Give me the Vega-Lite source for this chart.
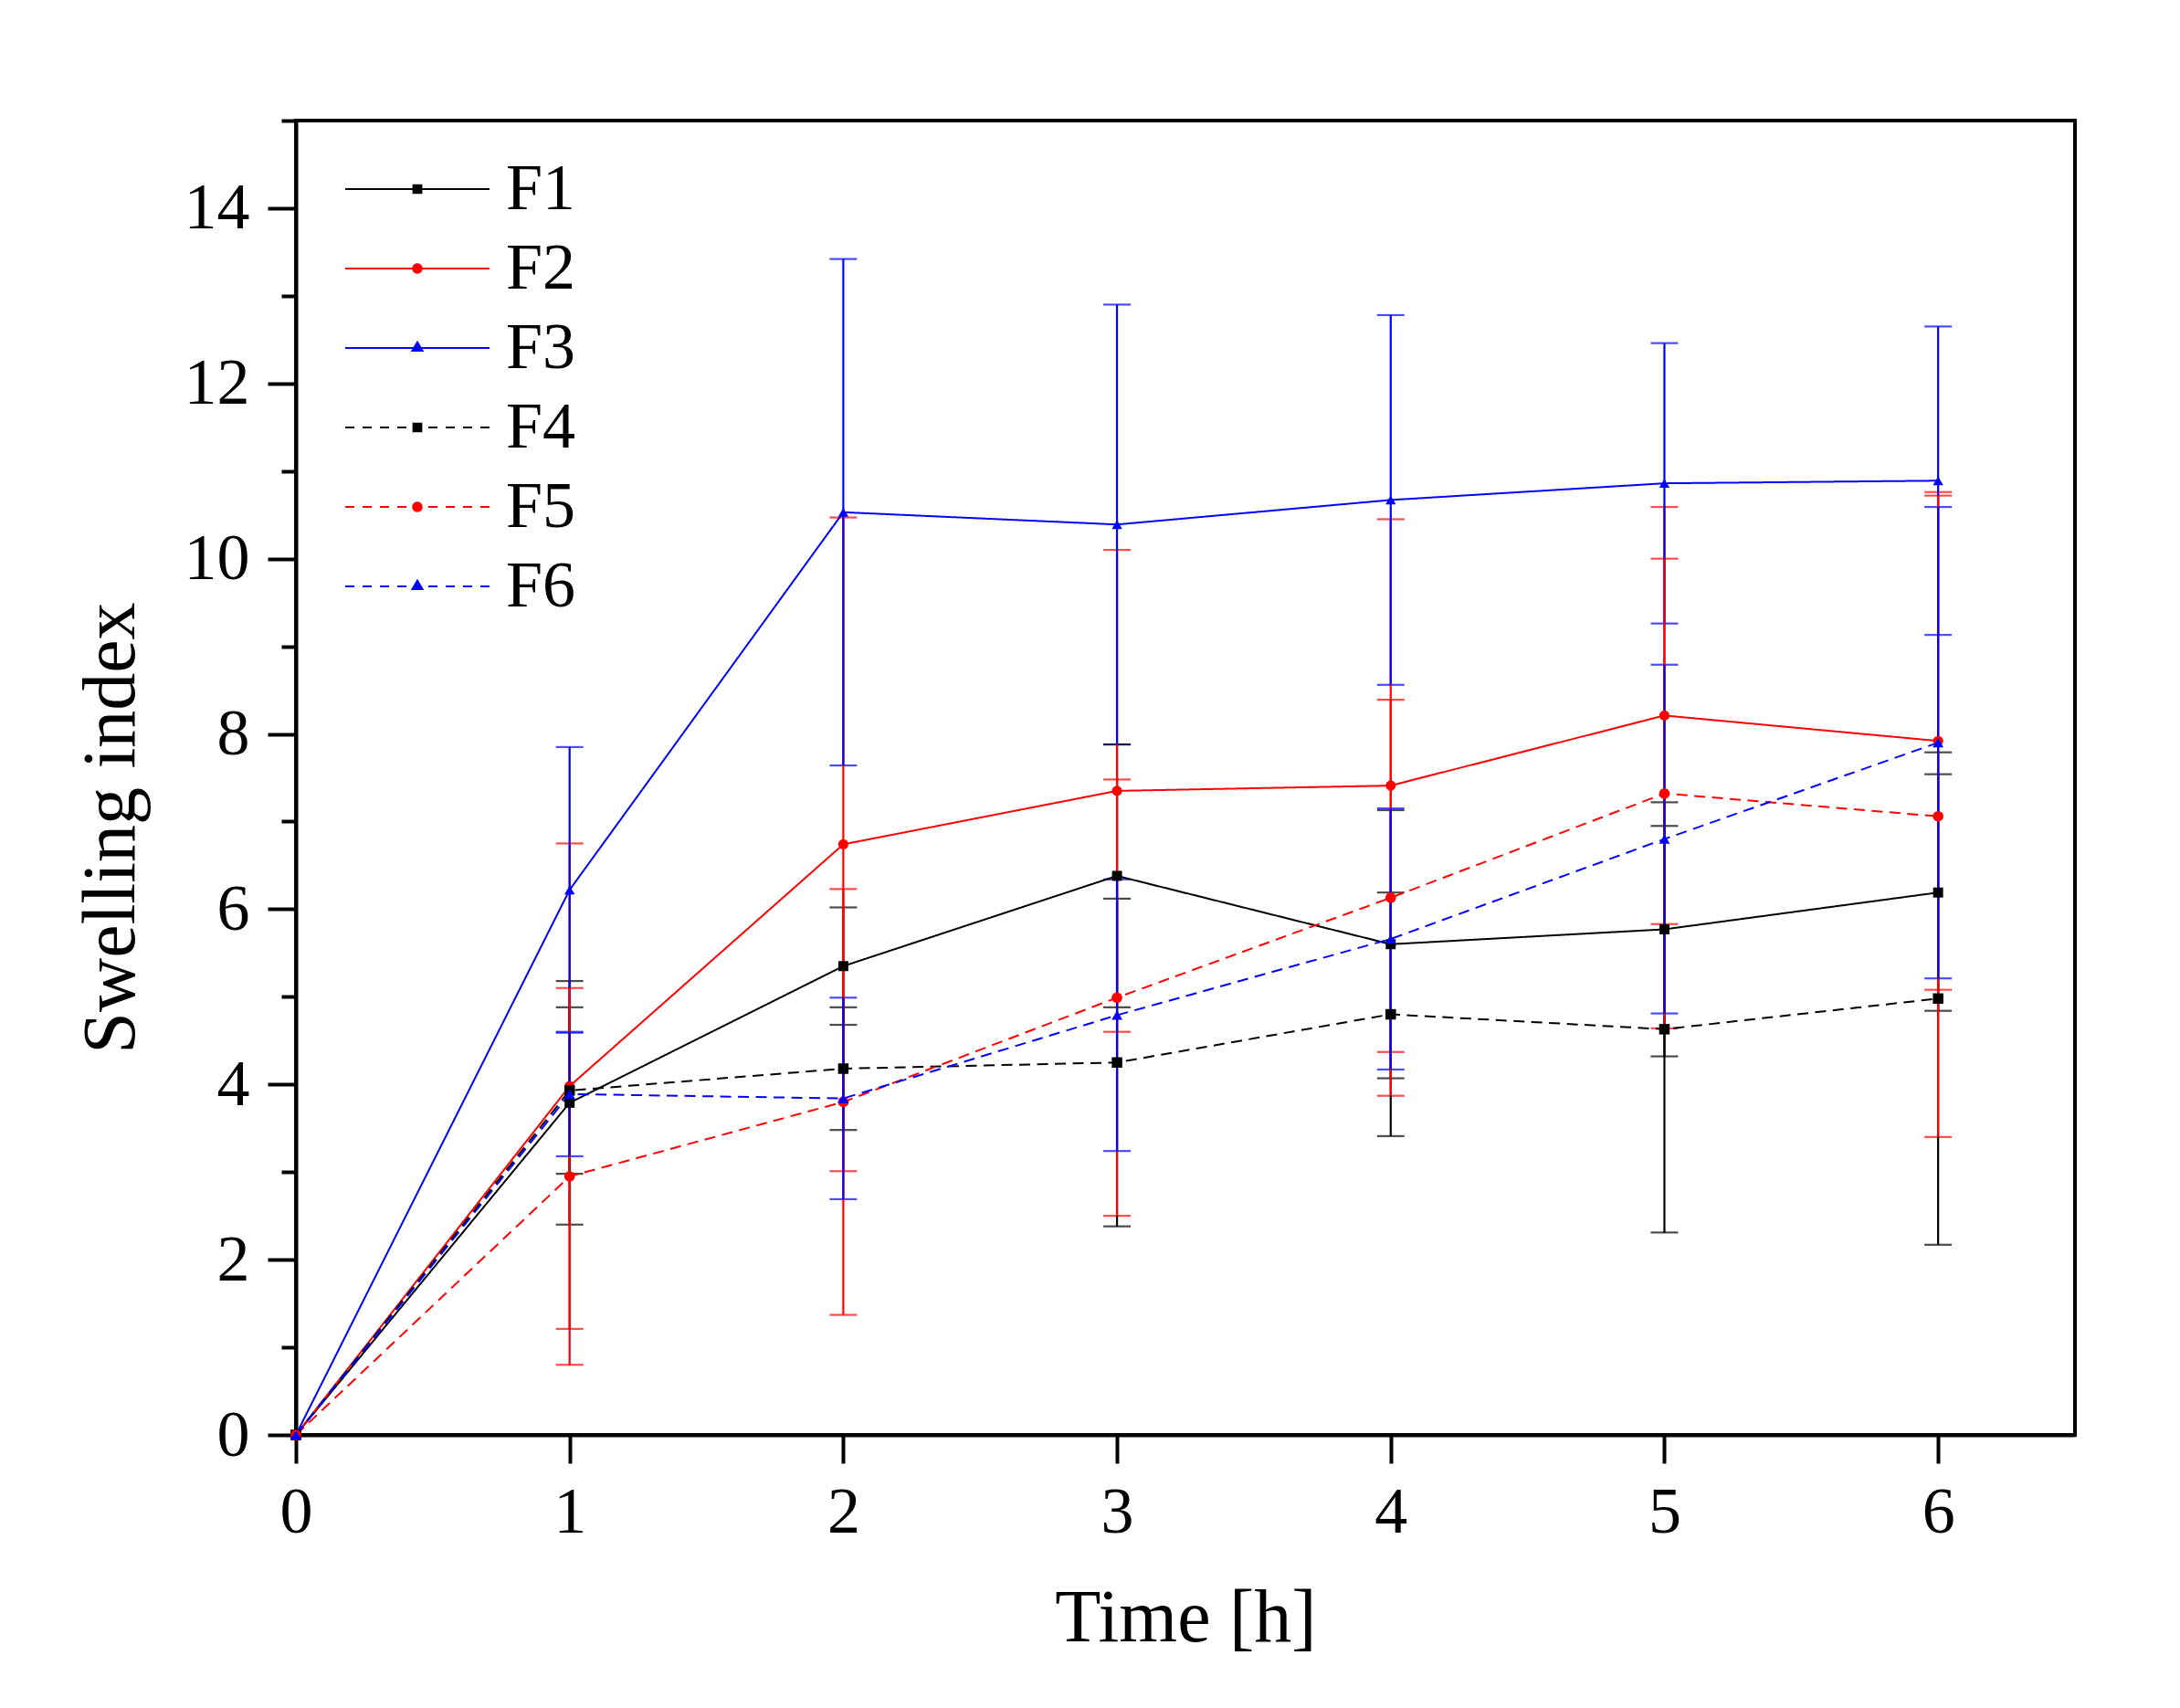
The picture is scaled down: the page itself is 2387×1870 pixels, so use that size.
{
  "$schema": "https://vega.github.io/schema/vega-lite/v6.json",
  "autosize": "none",
  "padding": {"left": 324, "top": 132, "right": 115, "bottom": 299},
  "width": 1948,
  "height": 1439,
  "background": "white",
  "config": {
    "view": {"stroke": "#000000", "strokeWidth": 4},
    "axis": {
      "grid": false,
      "domainColor": "#000000",
      "domainWidth": 4,
      "tickColor": "#000000",
      "tickWidth": 4,
      "labelFont": "Liberation Serif",
      "labelFontSize": 72,
      "labelColor": "#000000",
      "titleFont": "Liberation Serif",
      "titleFontSize": 82,
      "titleFontWeight": "normal",
      "titleColor": "#000000"
    }
  },
  "data": {
    "values": [
      {"series": "F1", "time": 0, "value": 0, "sd": 0},
      {"series": "F1", "time": 1, "value": 3.79, "sd": 1.39},
      {"series": "F1", "time": 2, "value": 5.35, "sd": 0.67},
      {"series": "F1", "time": 3, "value": 6.38, "sd": 1.5},
      {"series": "F1", "time": 4, "value": 5.6, "sd": 1.53},
      {"series": "F1", "time": 5, "value": 5.77, "sd": 1.45},
      {"series": "F1", "time": 6, "value": 6.19, "sd": 1.35},
      {"series": "F2", "time": 0, "value": 0, "sd": 0},
      {"series": "F2", "time": 1, "value": 3.98, "sd": 2.77},
      {"series": "F2", "time": 2, "value": 6.74, "sd": 3.73},
      {"series": "F2", "time": 3, "value": 7.35, "sd": 2.75},
      {"series": "F2", "time": 4, "value": 7.41, "sd": 3.04},
      {"series": "F2", "time": 5, "value": 8.21, "sd": 2.38},
      {"series": "F2", "time": 6, "value": 7.92, "sd": 2.84},
      {"series": "F3", "time": 0, "value": 0, "sd": 0},
      {"series": "F3", "time": 1, "value": 6.22, "sd": 1.63},
      {"series": "F3", "time": 2, "value": 10.53, "sd": 2.89},
      {"series": "F3", "time": 3, "value": 10.39, "sd": 2.51},
      {"series": "F3", "time": 4, "value": 10.67, "sd": 2.11},
      {"series": "F3", "time": 5, "value": 10.86, "sd": 1.6},
      {"series": "F3", "time": 6, "value": 10.89, "sd": 1.76},
      {"series": "F4", "time": 0, "value": 0, "sd": 0},
      {"series": "F4", "time": 1, "value": 3.93, "sd": 0.95},
      {"series": "F4", "time": 2, "value": 4.18, "sd": 0.7},
      {"series": "F4", "time": 3, "value": 4.25, "sd": 1.87},
      {"series": "F4", "time": 4, "value": 4.8, "sd": 1.39},
      {"series": "F4", "time": 5, "value": 4.63, "sd": 2.32},
      {"series": "F4", "time": 6, "value": 4.98, "sd": 2.81},
      {"series": "F5", "time": 0, "value": 0, "sd": 0},
      {"series": "F5", "time": 1, "value": 2.95, "sd": 2.15},
      {"series": "F5", "time": 2, "value": 3.8, "sd": 2.43},
      {"series": "F5", "time": 3, "value": 4.99, "sd": 2.49},
      {"series": "F5", "time": 4, "value": 6.13, "sd": 2.26},
      {"series": "F5", "time": 5, "value": 7.32, "sd": 2.68},
      {"series": "F5", "time": 6, "value": 7.06, "sd": 3.66},
      {"series": "F6", "time": 0, "value": 0, "sd": 0},
      {"series": "F6", "time": 1, "value": 3.89, "sd": 0.71},
      {"series": "F6", "time": 2, "value": 3.84, "sd": 1.15},
      {"series": "F6", "time": 3, "value": 4.79, "sd": 1.55},
      {"series": "F6", "time": 4, "value": 5.66, "sd": 1.49},
      {"series": "F6", "time": 5, "value": 6.8, "sd": 1.99},
      {"series": "F6", "time": 6, "value": 7.9, "sd": 2.69}
    ]
  },
  "encoding": {
    "x": {
      "field": "time",
      "type": "quantitative",
      "scale": {"domain": [0, 6.5], "nice": false, "zero": false},
      "axis": {
        "title": "Time [h]",
        "values": [0, 0.5, 1, 1.5, 2, 2.5, 3, 3.5, 4, 4.5, 5, 5.5, 6, 6.5],
        "format": "d",
        "labelExpr": "datum.value % 1 === 0 ? datum.label : ''",
        "tickSize": {"condition": {"test": "datum.value % 1 === 0", "value": 31}, "value": 16},
        "labelPadding": 18,
        "titlePadding": 40,
        "labelFlush": false,
        "labelOverlap": false
      }
    },
    "y": {
      "field": "value",
      "type": "quantitative",
      "scale": {"domain": [0, 15], "nice": false},
      "axis": {
        "title": "Swelling index",
        "values": [0, 1, 2, 3, 4, 5, 6, 7, 8, 9, 10, 11, 12, 13, 14, 15],
        "format": "d",
        "labelExpr": "datum.value % 2 === 0 ? datum.label : ''",
        "tickSize": {"condition": {"test": "datum.value % 2 === 0", "value": 31}, "value": 16},
        "labelPadding": 20,
        "titlePadding": 38,
        "titleY": 774,
        "labelFlush": false,
        "labelOverlap": false
      }
    },
    "color": {
      "field": "series",
      "type": "nominal",
      "scale": {
        "domain": ["F1", "F2", "F3", "F4", "F5", "F6"],
        "range": ["#000000", "#ff0000", "#0000ff", "#000000", "#ff0000", "#0000ff"]
      },
      "legend": {
        "title": null,
        "orient": "none",
        "legendX": 54,
        "legendY": 35,
        "padding": 0,
        "symbolSize": 24964,
        "clipHeight": 80,
        "rowPadding": 7,
        "labelOffset": 18,
        "labelFont": "Liberation Serif",
        "labelFontSize": 72,
        "labelColor": "#000000",
        "symbolStrokeWidth": 0,
        "encode": {
          "symbols": {
            "update": {
              "shape": {"signal": "datum.value === 'F1' ? 'M-1,-0.0127H-0.05V0.0127H-1ZM0.05,-0.0127H1V0.0127H0.05ZM-0.068,-0.068H0.068V0.068H-0.068Z' : datum.value === 'F2' ? 'M-1,-0.0127H-0.05V0.0127H-1ZM0.05,-0.0127H1V0.0127H0.05ZM-0.072,0A0.072,0.072,0,1,1,0.072,0A0.072,0.072,0,1,1,-0.072,0Z' : datum.value === 'F3' ? 'M-1,-0.0127H-0.05V0.0127H-1ZM0.05,-0.0127H1V0.0127H0.05ZM0,-0.105L0.092,0.052H-0.092Z' : datum.value === 'F4' ? 'M-1,-0.0127H-0.873V0.0127H-1ZM-0.759,-0.0127H-0.633V0.0127H-0.759ZM-0.519,-0.0127H-0.392V0.0127H-0.519ZM-0.278,-0.0127H-0.152V0.0127H-0.278ZM0.152,-0.0127H0.278V0.0127H0.152ZM0.392,-0.0127H0.519V0.0127H0.392ZM0.633,-0.0127H0.759V0.0127H0.633ZM0.873,-0.0127H1V0.0127H0.873ZM-0.068,-0.068H0.068V0.068H-0.068Z' : datum.value === 'F5' ? 'M-1,-0.0127H-0.873V0.0127H-1ZM-0.759,-0.0127H-0.633V0.0127H-0.759ZM-0.519,-0.0127H-0.392V0.0127H-0.519ZM-0.278,-0.0127H-0.152V0.0127H-0.278ZM0.152,-0.0127H0.278V0.0127H0.152ZM0.392,-0.0127H0.519V0.0127H0.392ZM0.633,-0.0127H0.759V0.0127H0.633ZM0.873,-0.0127H1V0.0127H0.873ZM-0.072,0A0.072,0.072,0,1,1,0.072,0A0.072,0.072,0,1,1,-0.072,0Z' : 'M-1,-0.0127H-0.873V0.0127H-1ZM-0.759,-0.0127H-0.633V0.0127H-0.759ZM-0.519,-0.0127H-0.392V0.0127H-0.519ZM-0.278,-0.0127H-0.152V0.0127H-0.278ZM0.152,-0.0127H0.278V0.0127H0.152ZM0.392,-0.0127H0.519V0.0127H0.392ZM0.633,-0.0127H0.759V0.0127H0.633ZM0.873,-0.0127H1V0.0127H0.873ZM0,-0.105L0.092,0.052H-0.092Z'"},
              "fill": {"signal": "datum.value === 'F2' || datum.value === 'F5' ? '#ff0000' : datum.value === 'F3' || datum.value === 'F6' ? '#0000ff' : '#000000'"},
              "size": {"value": 24964},
              "stroke": {"value": "transparent"},
              "strokeWidth": {"value": 0},
              "opacity": {"value": 1}
            }
          }
        }
      }
    }
  },
  "layer": [
    {
      "transform": [{"filter": "datum.time > 0"}],
      "mark": {
        "type": "errorbar",
        "ticks": {"size": 30, "thickness": 2.2},
        "rule": {"strokeWidth": 2.2}
      },
      "encoding": {
        "y": {"field": "value", "type": "quantitative"},
        "yError": {"field": "sd"}
      }
    },
    {
      "mark": {"type": "line", "strokeWidth": 2},
      "encoding": {
        "strokeDash": {
          "field": "series",
          "type": "nominal",
          "scale": {
            "range": [[1, 0], [1, 0], [1, 0], [12, 7.5], [12, 7.5], [12, 7.5]]
          },
          "legend": null
        }
      }
    },
    {
      "mark": {"type": "point", "filled": true, "opacity": 1},
      "encoding": {
        "shape": {
          "field": "series",
          "type": "nominal",
          "scale": {
            "range": ["square", "circle", "triangle-up", "square", "circle", "triangle-up"]
          },
          "legend": null
        },
        "size": {
          "field": "series",
          "type": "nominal",
          "scale": {
            "range": [120, 140, 250, 120, 140, 250]
          },
          "legend": null
        }
      }
    }
  ]
}
